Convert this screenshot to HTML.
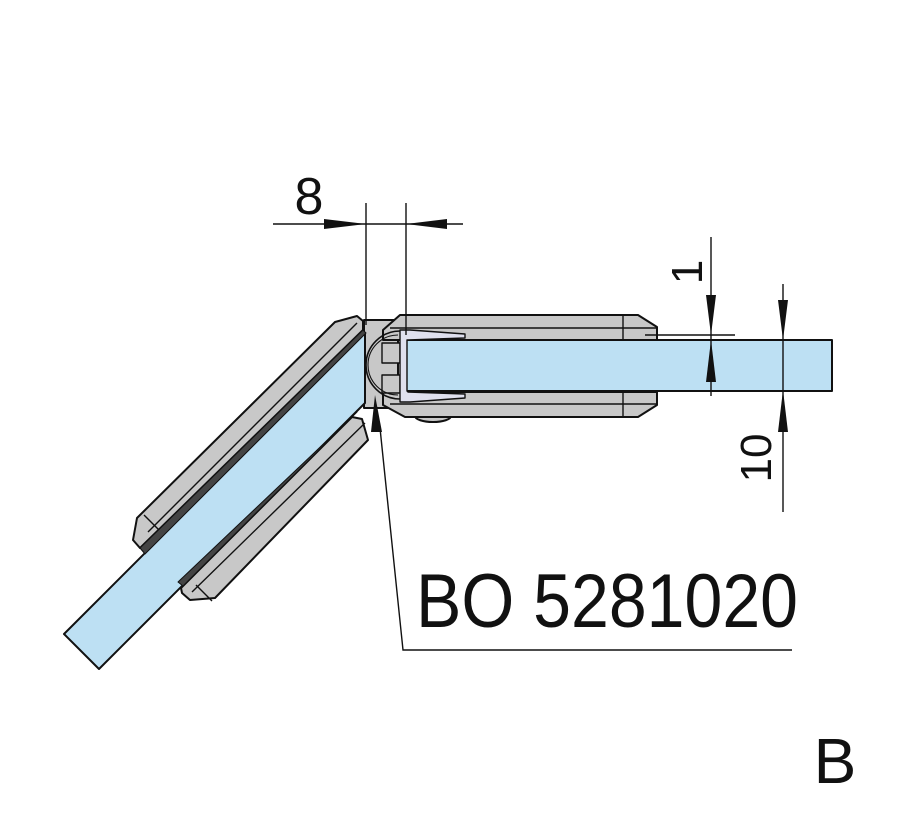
<!DOCTYPE html>
<html><head><meta charset="utf-8"><style>html,body{margin:0;padding:0;background:#fff}svg{display:block}</style></head>
<body>
<svg width="909" height="820" viewBox="0 0 909 820" xmlns="http://www.w3.org/2000/svg" font-family="Liberation Sans, sans-serif">
<g stroke="#111" stroke-width="2" stroke-linejoin="round">
<!-- back block -->
<rect x="364" y="320" width="34" height="88" fill="#c8c8c8"/>
<!-- diagonal glass -->
<polygon points="64,634 99,669 365,403 365,333" fill="#bde0f3"/>
<!-- upper diag clamp -->
<polygon points="335,322 357,316 363,321 363,330 140,548 133,540 137,518" fill="#c8c8c8"/>
<line x1="144" y1="515" x2="160" y2="531" stroke-width="1.4"/>
<line x1="148" y1="532" x2="357" y2="323" stroke-width="1.4"/>
<polygon points="363,330 366,333 145,554 140,548" fill="#444" stroke-width="1"/>
<!-- lower diag clamp -->
<polygon points="352,417 362,419 368,440 215,598 190,600 182,593 181,588" fill="#c8c8c8"/>
<line x1="196" y1="585" x2="212" y2="601" stroke-width="1.4"/>
<line x1="192" y1="592" x2="365" y2="423" stroke-width="1.4"/>
<polygon points="353,416 357,412 183,586 178,582" fill="#444" stroke-width="1"/>
<!-- right clamp body -->
<ellipse cx="433" cy="416" rx="18" ry="6" fill="#c8c8c8"/>
<polygon points="400,315 638,315 657,327 657,340 383,340 383,330" fill="#c8c8c8"/>
<polygon points="383,392 657,392 657,405 638,417 405,417 383,405" fill="#c8c8c8"/>
<line x1="390" y1="328" x2="657" y2="328" stroke-width="1.4"/>
<line x1="390" y1="404" x2="657" y2="404" stroke-width="1.4"/>
<line x1="623" y1="315" x2="623" y2="340" stroke-width="1.4"/>
<line x1="623" y1="392" x2="623" y2="417" stroke-width="1.4"/>
<!-- glass right -->
<rect x="406" y="340" width="426" height="51" fill="#bde0f3"/>
<!-- small blocks -->
<rect x="382" y="343" width="18" height="20" fill="#c8c8c8" stroke-width="1.4"/>
<rect x="382" y="375" width="18" height="18" fill="#c8c8c8" stroke-width="1.4"/>
<!-- profile -->
<polygon points="400,330 410,330 465,334 465,338 408,340 407,340 407,391 408,392 465,394 465,398 410,402 400,402" fill="#dfe0ee" stroke-width="1.4"/>
<!-- arc -->
<path d="M400,331 A34,34 0 0 0 400,399" fill="none" stroke-width="1.6"/>
<path d="M398,335 A30,30 0 0 0 398,395" fill="none" stroke-width="1.1"/>
</g>
<g stroke="#111" stroke-width="1.4" fill="none">
<line x1="366" y1="203" x2="366" y2="325"/>
<line x1="406" y1="203" x2="406" y2="335"/>
<line x1="273" y1="224" x2="463" y2="224"/>
<line x1="711" y1="237" x2="711" y2="396"/>
<line x1="645" y1="335" x2="735" y2="335"/>
<line x1="783" y1="284" x2="783" y2="512"/>
<polyline points="380,428 403,650 792,650"/>
</g>
<g fill="#111">
<polygon points="366,224 324,219 324,229"/>
<polygon points="406,224 447,219 447,229"/>
<polygon points="711,335 706,295 716,295"/>
<polygon points="711,340 706,382 716,382"/>
<polygon points="783,340 778,300 788,300"/>
<polygon points="783,390 778,432 788,432"/>
<polygon points="375,395 371,432 382,432"/>
</g>
<g fill="#111">
<text x="309" y="214" font-size="52" text-anchor="middle">8</text>
<text transform="translate(702,272) rotate(-90)" font-size="44" text-anchor="middle">1</text>
<text transform="translate(771,458) rotate(-90)" font-size="44" text-anchor="middle">10</text>
<text x="416" y="627" font-size="76" textLength="382" lengthAdjust="spacingAndGlyphs">BO 5281020</text>
<text x="835" y="783" font-size="64" text-anchor="middle">B</text>
</g>
</svg>
</body></html>
